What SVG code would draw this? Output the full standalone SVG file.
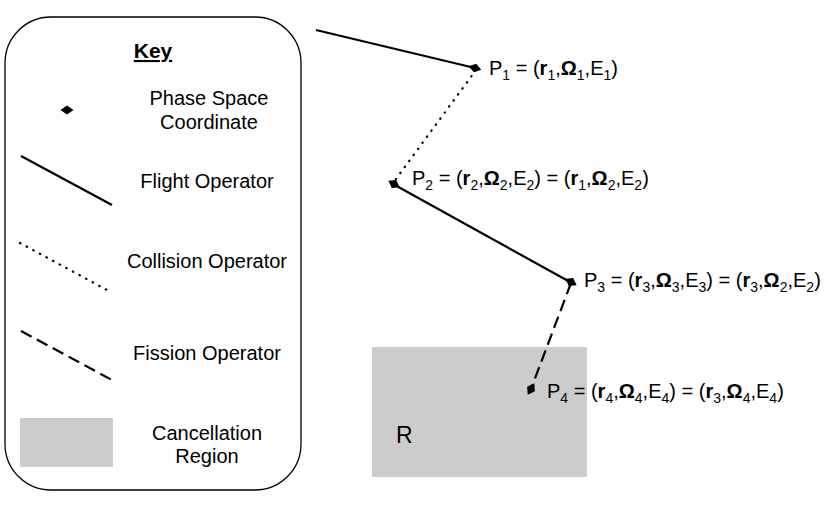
<svg xmlns="http://www.w3.org/2000/svg" width="830" height="508" viewBox="0 0 830 508">
<defs>
<style>
text{font-family:"Liberation Sans",Arial,sans-serif;fill:#000;}
.lbl{font-size:20px;}
.ctr{text-anchor:middle;}
.sub{font-size:14px;}
.b{font-weight:bold;}
.solid{stroke:#000;stroke-width:2.2;fill:none;}
.dot{stroke:#000;stroke-width:2.2;fill:none;stroke-dasharray:0.5 7;stroke-linecap:round;}
.dash{stroke:#000;stroke-width:2.2;fill:none;stroke-dasharray:12 6;}
.region{fill:#cccccc;}
</style>
<polygon id="dm" points="-6.5,0 0,-4.5 6.5,0 0,4.5" fill="#000"/>
</defs>
<rect width="830" height="508" fill="#fff"/>

<g id="key">
<rect x="5" y="17" width="296" height="473" rx="46" ry="46" fill="#fff" stroke="#000" stroke-width="1.3"/>
<text x="153" y="58" class="ctr b" font-size="21" text-decoration="underline">Key</text>
<use href="#dm" x="67" y="110"/>
<text x="209" y="105" class="lbl ctr">Phase Space</text>
<text x="209" y="129" class="lbl ctr">Coordinate</text>
<line x1="21" y1="156" x2="112" y2="205" class="solid"/>
<text x="207" y="188" class="lbl ctr">Flight Operator</text>
<line x1="20" y1="243" x2="107" y2="290" class="dot"/>
<text x="207" y="268" class="lbl ctr">Collision Operator</text>
<line x1="21" y1="331" x2="112" y2="380" class="dash"/>
<text x="207" y="360" class="lbl ctr">Fission Operator</text>
<rect x="20" y="418" width="93" height="49" class="region"/>
<text x="207" y="440" class="lbl ctr">Cancellation</text>
<text x="207" y="463" class="lbl ctr">Region</text>
</g>

<g id="regionR">
<rect x="372" y="347" width="215" height="130" class="region"/>
<text x="396" y="443" font-size="23">R</text>
</g>

<g id="connectors">
<line x1="316" y1="30" x2="475" y2="68" class="solid"/>
<line x1="476" y1="70" x2="393" y2="183" class="dot"/>
<line x1="393" y1="184" x2="570" y2="282" class="solid"/>
<line x1="571" y1="283" x2="531" y2="389" class="dash"/>
</g>

<g id="p1">
<use href="#dm" transform="translate(475,68) rotate(15)"/>
<text x="489" y="75" class="lbl">P<tspan class="sub" dy="5">1</tspan><tspan dy="-5"> = (</tspan><tspan class="b">r</tspan><tspan class="sub" dy="5">1</tspan><tspan dy="-5">,</tspan><tspan class="b">Ω</tspan><tspan class="sub" dy="5">1</tspan><tspan dy="-5">,E</tspan><tspan class="sub" dy="5">1</tspan><tspan dy="-5">)</tspan></text>
</g>

<g id="p2">
<use href="#dm" transform="translate(394,184) rotate(30)"/>
<text x="412" y="185" class="lbl">P<tspan class="sub" dy="5">2</tspan><tspan dy="-5"> = (</tspan><tspan class="b">r</tspan><tspan class="sub" dy="5">2</tspan><tspan dy="-5">,</tspan><tspan class="b">Ω</tspan><tspan class="sub" dy="5">2</tspan><tspan dy="-5">,E</tspan><tspan class="sub" dy="5">2</tspan><tspan dy="-5">) = (</tspan><tspan class="b">r</tspan><tspan class="sub" dy="5">1</tspan><tspan dy="-5">,</tspan><tspan class="b">Ω</tspan><tspan class="sub" dy="5">2</tspan><tspan dy="-5">,E</tspan><tspan class="sub" dy="5">2</tspan><tspan dy="-5">)</tspan></text>
</g>

<g id="p3">
<use href="#dm" transform="translate(571,282) rotate(30)"/>
<text x="584" y="287" class="lbl">P<tspan class="sub" dy="5">3</tspan><tspan dy="-5"> = (</tspan><tspan class="b">r</tspan><tspan class="sub" dy="5">3</tspan><tspan dy="-5">,</tspan><tspan class="b">Ω</tspan><tspan class="sub" dy="5">3</tspan><tspan dy="-5">,E</tspan><tspan class="sub" dy="5">3</tspan><tspan dy="-5">) = (</tspan><tspan class="b">r</tspan><tspan class="sub" dy="5">3</tspan><tspan dy="-5">,</tspan><tspan class="b">Ω</tspan><tspan class="sub" dy="5">2</tspan><tspan dy="-5">,E</tspan><tspan class="sub" dy="5">2</tspan><tspan dy="-5">)</tspan></text>
</g>

<g id="p4">
<use href="#dm" transform="translate(531,389) rotate(-60)"/>
<text x="547" y="398" class="lbl">P<tspan class="sub" dy="5">4</tspan><tspan dy="-5"> = (</tspan><tspan class="b">r</tspan><tspan class="sub" dy="5">4</tspan><tspan dy="-5">,</tspan><tspan class="b">Ω</tspan><tspan class="sub" dy="5">4</tspan><tspan dy="-5">,E</tspan><tspan class="sub" dy="5">4</tspan><tspan dy="-5">) = (</tspan><tspan class="b">r</tspan><tspan class="sub" dy="5">3</tspan><tspan dy="-5">,</tspan><tspan class="b">Ω</tspan><tspan class="sub" dy="5">4</tspan><tspan dy="-5">,E</tspan><tspan class="sub" dy="5">4</tspan><tspan dy="-5">)</tspan></text>
</g>
</svg>
